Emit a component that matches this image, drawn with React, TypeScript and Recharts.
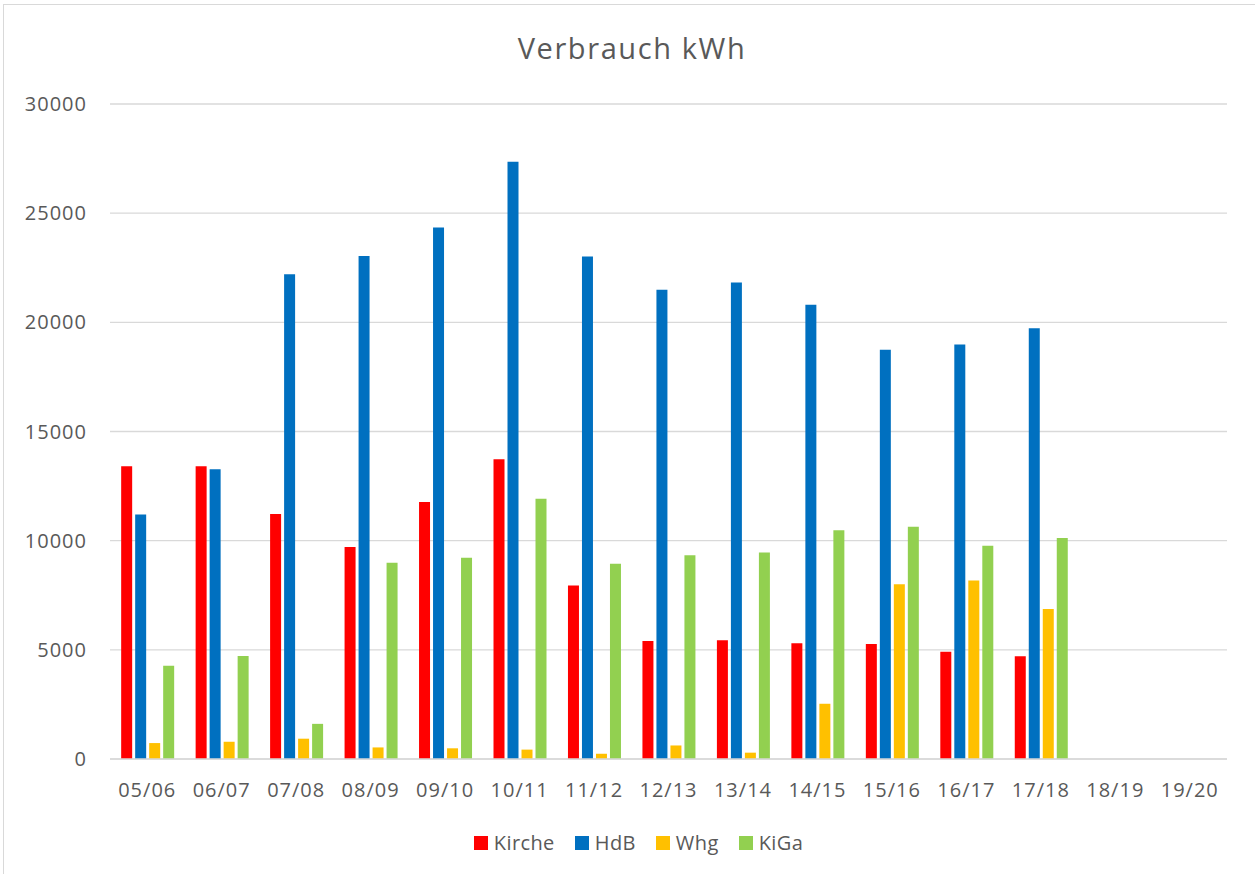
import React from "react";
import { BarChart, Bar, XAxis, YAxis, CartesianGrid, Legend } from "recharts";

const categories = ["05/06", "06/07", "07/08", "08/09", "09/10", "10/11", "11/12", "12/13", "13/14", "14/15", "15/16", "16/17", "17/18", "18/19", "19/20"];
const kirche = [13410, 13410, 11220, 9710, 11770, 13730, 7950, 5400, 5440, 5300, 5270, 4910, 4710, null, null];
const hdb = [11200, 13270, 22200, 23040, 24340, 27360, 23010, 21490, 21820, 20800, 18750, 18990, 19730, null, null];
const whg = [730, 790, 930, 530, 490, 430, 240, 620, 290, 2530, 8000, 8180, 6870, null, null];
const kiga = [4270, 4720, 1610, 8990, 9220, 11920, 8940, 9330, 9460, 10480, 10640, 9770, 10120, null, null];
const yTicks = [0, 5000, 10000, 15000, 20000, 25000, 30000];

const seriesInfo = [
  { key: "Kirche", color: "#FF0000" },
  { key: "HdB", color: "#0070C0" },
  { key: "Whg", color: "#FFC000" },
  { key: "KiGa", color: "#92D050" },
];

const data = categories.map((c, i) => ({
  name: c,
  Kirche: kirche[i],
  HdB: hdb[i],
  Whg: whg[i],
  KiGa: kiga[i],
}));

const FONT = "'Open Sans', 'Noto Sans', sans-serif";
const TEXT = "#595959";

const LegendContent = () => (
  <div
    style={{
      height: 30,
      display: "flex",
      alignItems: "center",
      justifyContent: "center",
      paddingLeft: 40,
      boxSizing: "border-box",
      fontFamily: FONT,
      fontSize: 20,
      color: TEXT,
    }}
  >
    {seriesInfo.map((s, i) => (
      <div key={s.key} style={{ display: "flex", alignItems: "center", marginLeft: i === 0 ? 0 : 20 }}>
        <span style={{ width: 14, height: 14, background: s.color, display: "inline-block", marginRight: 6 }} />
        <span style={{ lineHeight: "30px", letterSpacing: 0.4 }}>{s.key}</span>
      </div>
    ))}
  </div>
);

export default function App() {
  return (
    <div
      style={{
        position: "absolute",
        left: 0,
        top: 0,
        width: 1255,
        height: 874,
        overflow: "hidden",
        background: "#fff",
      }}
    >
      <div
        style={{
          position: "absolute",
          left: 3,
          top: 4,
          width: 1300,
          height: 900,
          border: "1px solid #d9d9d9",
        }}
      />
      <svg width={1255} height={80} style={{ position: "absolute", left: 0, top: 0 }}>
        <text
          x={632}
          y={59}
          textAnchor="middle"
          fontFamily={FONT}
          fontSize={29}
          letterSpacing={1.6}
          fill={TEXT}
        >
          Verbrauch kWh
        </text>
      </svg>
      <div style={{ position: "absolute", left: 0, top: 0 }}>
        <BarChart
          width={1255}
          height={874}
          data={data}
          margin={{ top: 104, right: 28, left: 10, bottom: 16 }}
          barCategoryGap="15%"
          barGap={3}
        >
          <CartesianGrid vertical={false} stroke="#d9d9d9" strokeWidth={1.3} />
          <XAxis
            dataKey="name"
            height={69}
            axisLine={{ stroke: "#d9d9d9", strokeWidth: 1.3 }}
            tickLine={false}
            tickSize={4}
            tickMargin={20}
            interval={0}
            tick={{ fill: TEXT, fontSize: 20, fontFamily: FONT, letterSpacing: 1 }}
          />
          <YAxis
            width={100}
            domain={[0, 30000]}
            ticks={yTicks}
            interval={0}
            axisLine={false}
            tickLine={false}
            tickSize={4}
            tickMargin={19}
            tick={{ fill: TEXT, fontSize: 20, fontFamily: FONT, letterSpacing: 1 }}
          />
          <Legend verticalAlign="bottom" height={30} content={<LegendContent />} />
          {seriesInfo.map((s) => (
            <Bar key={s.key} dataKey={s.key} fill={s.color} isAnimationActive={false} />
          ))}
        </BarChart>
      </div>
    </div>
  );
}
